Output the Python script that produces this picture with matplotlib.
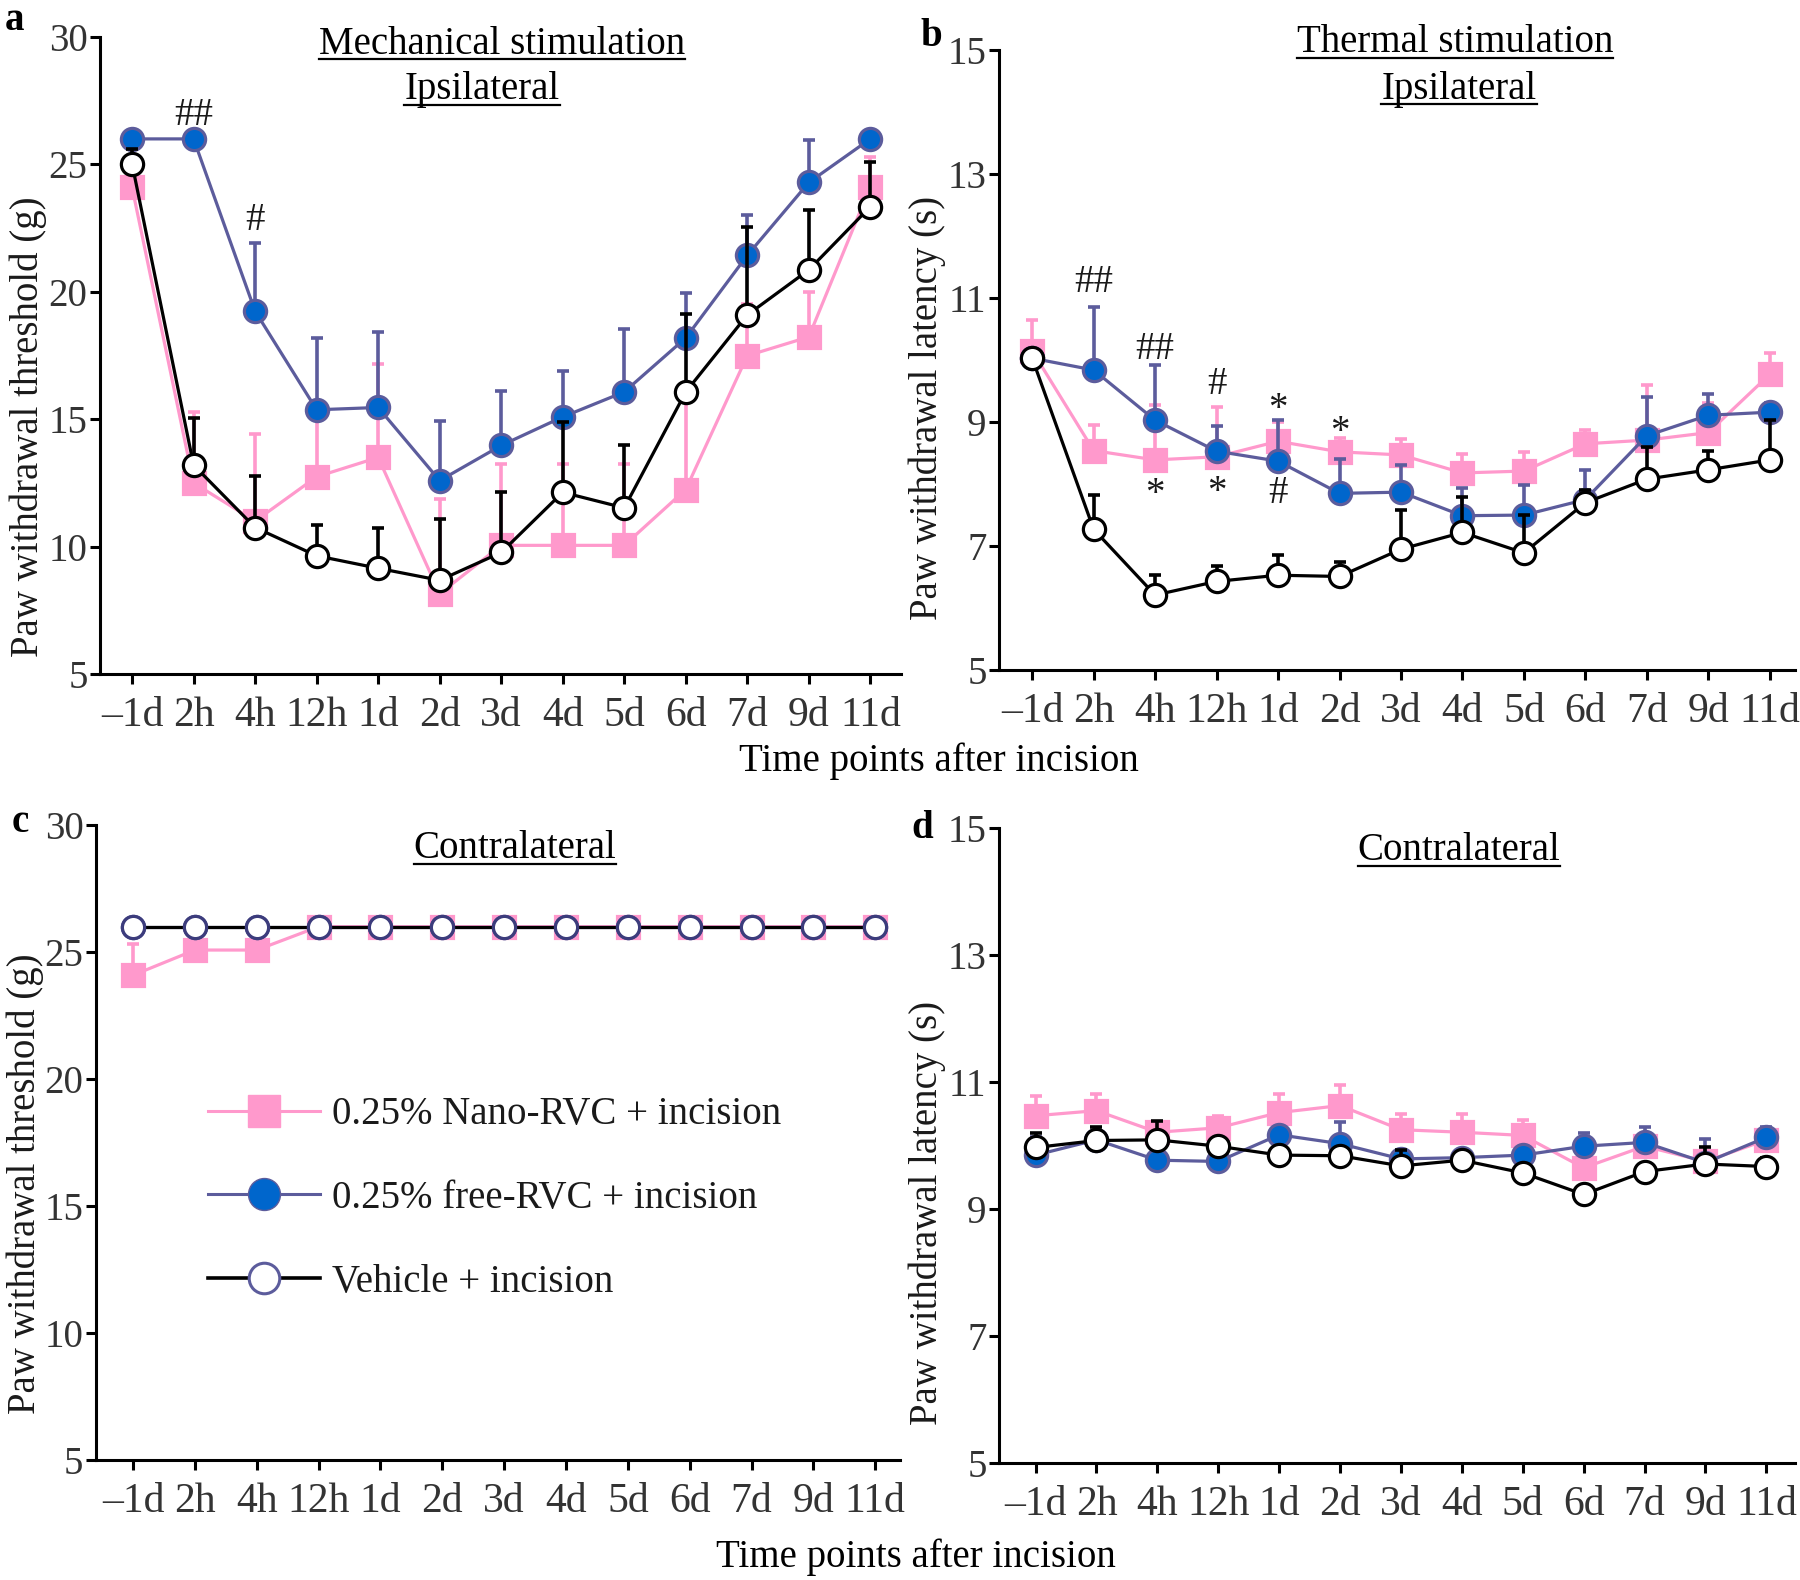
import numpy as np
import matplotlib
matplotlib.use("Agg")
import matplotlib.pyplot as plt
from matplotlib.lines import Line2D

plt.rcParams['font.family'] = ['Liberation Serif', 'DejaVu Serif']

# categories
time_labels = ['\u20131d', '2h', '4h', '12h', '1d', '2d', '3d', '4d', '5d', '6d', '7d', '9d', '11d']

# panel a: mechanical, ipsilateral (mean, upper error end)
a_nano = [24.1, 12.5, 11.0, 12.74, 13.5, 8.15, 10.05, 10.05, 10.05, 12.24, 17.49, 18.23, 24.13]
a_nano_top = [24.1, 15.3, 14.43, 15.3, 17.18, 11.87, 13.23, 13.23, 13.23, 15.8, 19.54, 19.98, 25.29]
a_free = [26.0, 26.0, 19.24, 15.37, 15.46, 12.59, 13.97, 15.09, 16.07, 18.19, 21.43, 24.29, 26.0]
a_free_top = [26.0, 26.0, 21.9, 18.17, 18.42, 14.93, 16.09, 16.88, 18.54, 19.96, 23.03, 25.97, 26.0]
a_veh = [25.02, 13.2, 10.75, 9.64, 9.15, 8.68, 9.77, 12.13, 11.52, 16.07, 19.09, 20.86, 23.34]
a_veh_top = [25.6, 15.04, 12.76, 10.83, 10.73, 11.08, 12.13, 14.9, 14.0, 19.14, 22.55, 23.22, 25.11]

# panel b: thermal, ipsilateral
b_nano = [10.15, 8.54, 8.39, 8.44, 8.69, 8.52, 8.47, 8.18, 8.21, 8.65, 8.71, 8.83, 9.77]
b_nano_top = [10.65, 8.96, 9.27, 9.25, 9.0, 8.75, 8.73, 8.49, 8.51, 8.88, 9.6, 9.3, 10.12]
b_free = [10.03, 9.84, 9.03, 8.53, 8.37, 7.85, 7.87, 7.49, 7.50, 7.75, 8.78, 9.11, 9.16]
b_free_top = [10.03, 10.85, 9.92, 8.93, 9.03, 8.4, 8.3, 7.93, 7.98, 8.23, 9.41, 9.45, 9.3]
b_veh = [10.03, 7.27, 6.21, 6.43, 6.53, 6.51, 6.95, 7.22, 6.89, 7.70, 8.08, 8.23, 8.39]
b_veh_top = [10.03, 7.82, 6.53, 6.68, 6.86, 6.74, 7.59, 7.79, 7.5, 7.9, 8.6, 8.53, 9.03]

# panel c: mechanical, contralateral
c_nano = [24.09, 25.08, 25.08, 26, 26, 26, 26, 26, 26, 26, 26, 26, 26]
c_nano_top = [25.3, 25.5, 25.5, 26, 26, 26, 26, 26, 26, 26, 26, 26, 26]
c_free = [26] * 13
c_veh = [26] * 13

# panel d: thermal, contralateral
d_nano = [10.47, 10.55, 10.21, 10.28, 10.52, 10.63, 10.25, 10.21, 10.16, 9.65, 9.99, 9.75, 10.09]
d_nano_top = [10.78, 10.82, 10.3, 10.47, 10.82, 10.95, 10.50, 10.49, 10.41, 9.9, 10.1, 9.9, 10.25]
d_free = [9.85, 10.09, 9.77, 9.75, 10.17, 10.03, 9.79, 9.81, 9.85, 9.99, 10.05, 9.73, 10.13]
d_free_top = [10.13, 10.2, 9.9, 9.85, 10.3, 10.37, 9.9, 9.9, 9.95, 10.2, 10.29, 10.11, 10.29]
d_veh = [9.97, 10.08, 10.09, 9.99, 9.85, 9.84, 9.68, 9.77, 9.57, 9.23, 9.59, 9.71, 9.67]
d_veh_top = [10.2, 10.29, 10.39, 10.05, 9.9, 9.9, 9.93, 9.85, 9.65, 9.35, 9.7, 9.97, 9.8]

legend_labels = ['0.25% Nano-RVC + incision', '0.25% free-RVC + incision', 'Vehicle + incision']

PINK = '#ff99cc'
BLUE_FILL = '#0066cc'
SLATE = '#5c5c9c'
TXT = '#1a1a1a'
TICK_TXT = '#333333'
FS = 28

fig = plt.figure(figsize=(18, 15.8), dpi=100)

ax_a = fig.add_axes([0.0556, 0.5734, 0.445, 0.4032])
ax_b = fig.add_axes([0.555, 0.5759, 0.4422, 0.3924])
ax_c = fig.add_axes([0.0533, 0.0759, 0.4467, 0.4019])
ax_d = fig.add_axes([0.555, 0.074, 0.4422, 0.4019])

x = np.arange(len(time_labels))


def draw_series(ax, mean, top, color, mfc, mec, marker, ms, z):
    mean = np.asarray(mean, float)
    if top is not None:
        up = np.clip(np.asarray(top, float) - mean, 0, None)
        ax.errorbar(x, mean, yerr=[np.zeros_like(up), up], fmt='none', ecolor=color,
                    elinewidth=2.6, capsize=4, capthick=2.6, zorder=z)
    ax.plot(x, mean, color=color, lw=2.3, marker=marker, ms=ms, mfc=mfc, mec=mec,
            mew=2.3, zorder=z + 0.5, clip_on=False)


def style_axis(ax, ylim, yticks, xlim):
    ax.set_xlim(*xlim)
    ax.set_ylim(*ylim)
    ax.set_yticks(yticks)
    ax.set_xticks(x)
    ax.set_xticklabels(time_labels)
    for s in ['top', 'right']:
        ax.spines[s].set_visible(False)
    for s in ['left', 'bottom']:
        ax.spines[s].set_linewidth(2.2)
        ax.spines[s].set_color('black')
    ax.tick_params(axis='both', direction='out', length=7, width=2.2, labelcolor=TICK_TXT)
    ax.tick_params(axis='x', pad=9, labelsize=30)
    ax.tick_params(axis='y', pad=2, labelsize=FS)


panels = [
    (ax_a, a_nano, a_nano_top, a_free, a_free_top, a_veh, a_veh_top, (5, 30), [5, 10, 15, 20, 25, 30], (-0.52, 12.5), 'black'),
    (ax_b, b_nano, b_nano_top, b_free, b_free_top, b_veh, b_veh_top, (5, 15), [5, 7, 9, 11, 13, 15], (-0.54, 12.41), 'black'),
    (ax_c, c_nano, c_nano_top, c_free, None, c_veh, None, (5, 30), [5, 10, 15, 20, 25, 30], (-0.6, 12.4), '#3c3c7c'),
    (ax_d, d_nano, d_nano_top, d_free, d_free_top, d_veh, d_veh_top, (5, 15), [5, 7, 9, 11, 13, 15], (-0.6, 12.47), 'black'),
]

for ax, nano, nano_t, free, free_t, veh, veh_t, ylim, yt, xlim, veh_edge in panels:
    draw_series(ax, nano, nano_t, PINK, PINK, PINK, 's', 16, 2)
    draw_series(ax, free, free_t, SLATE, BLUE_FILL, SLATE, 'o', 16, 3)
    draw_series(ax, veh, veh_t, 'black', 'white', veh_edge, 'o', 16, 4)
    style_axis(ax, ylim, yt, xlim)

# y labels placed like the reference (axes coords, anchor = descent side of the text)
for ax, lab, lx, ly in [(ax_a, 'Paw withdrawal threshold (g)', -0.066, 0.389),
                        (ax_c, 'Paw withdrawal threshold (g)', -0.0647, 0.436),
                        (ax_b, 'Paw withdrawal latency (s)', -0.0666, 0.423),
                        (ax_d, 'Paw withdrawal latency (s)', -0.0666, 0.394)]:
    ax.set_ylabel(lab, fontsize=FS, color=TXT)
    ax.yaxis.set_label_coords(lx, ly)

# significance marks
for ax, xi, yv, s in [(ax_a, 1, 26.93, '##'), (ax_a, 2, 22.78, '#'),
                      (ax_b, 1, 11.25, '##'), (ax_b, 2, 10.17, '##'), (ax_b, 3, 9.6, '#'),
                      (ax_b, 4, 9.32, '*'), (ax_b, 5, 8.96, '*'),
                      (ax_b, 2, 7.95, '*'), (ax_b, 3, 7.99, '*'), (ax_b, 4, 7.85, '#')]:
    dy = -0.12 if s == '*' else 0
    ax.text(xi, yv + dy, s, fontsize=FS, ha='center', va='center', color=TXT)

# legend in panel c
handles = [
    Line2D([], [], color=PINK, lw=2.2, marker='s', ms=23, mfc=PINK, mec=PINK),
    Line2D([], [], color=SLATE, lw=2.2, marker='o', ms=23, mfc=BLUE_FILL, mec=SLATE),
    Line2D([], [], color='black', lw=2.6, marker='o', ms=22, mfc='white', mec=SLATE, mew=2.2),
]
ax_c.legend(handles, legend_labels, loc='upper left', bbox_to_anchor=(0.139, 0.573),
            frameon=False, fontsize=FS, handlelength=2.9, labelspacing=1.2,
            handletextpad=0.3, borderpad=0, borderaxespad=0, labelcolor=TXT)

# panel letters
for s, px, py in [('a', 14, 21), ('b', 931, 37), ('c', 20, 823), ('d', 922, 828)]:
    fig.text(px / 1800, 1 - py / 1580, s, fontsize=FS, fontweight='bold',
             ha='center', va='center', color='black')

# x labels
fig.text(939 / 1800, 1 - 761 / 1580, 'Time points after incision', fontsize=FS,
         ha='center', va='center', color='black')
fig.text(916 / 1800, 1 - 1557 / 1580, 'Time points after incision', fontsize=FS,
         ha='center', va='center', color='black')

# underlined headings
headings = [('Mechanical stimulation', 502, 44), ('Ipsilateral', 482, 90),
            ('Thermal stimulation', 1455, 43), ('Ipsilateral', 1459, 89),
            ('Contralateral', 515, 849), ('Contralateral', 1459, 851)]
htexts = []
for s, px, py in headings:
    t = fig.text(px / 1800, 1 - py / 1580, s, fontsize=FS, ha='center', va='center',
                 color='black')
    htexts.append(t)

fig.canvas.draw()
renderer = fig.canvas.get_renderer()
for t in htexts:
    bb = t.get_window_extent(renderer)
    yline = bb.y0 + 4
    fig.add_artist(Line2D([bb.x0 / 1800, bb.x1 / 1800], [yline / 1580, yline / 1580],
                          transform=fig.transFigure, color='black', lw=1.6))

fig.savefig('out.png', dpi=100)
